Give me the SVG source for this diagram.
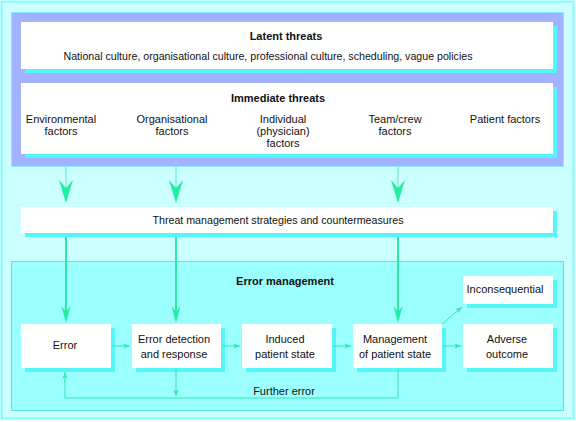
<svg xmlns="http://www.w3.org/2000/svg" width="576" height="422" viewBox="0 0 576 422">
<defs>
<style>
text{font-family:"Liberation Sans",Arial,sans-serif;font-size:11px;fill:#111;text-anchor:middle}
.b{font-weight:bold}
.box{fill:#ffffff}
.sh{fill:#55f6f6}
.thick{stroke:#2ee8a6;stroke-width:2;fill:none}
.thin{stroke:#5eeab8;stroke-width:1;fill:none}
.small{stroke:#33e8b0;stroke-width:1;fill:none}
.ah{fill:#22eea2}
.ahs{fill:#33e8b0}
</style>
<marker id="m" viewBox="0 0 10 8" refX="10" refY="4" markerWidth="7" markerHeight="5.5" markerUnits="userSpaceOnUse" orient="auto">
<path d="M0,0 L10,4 L0,8 L3,4 Z" class="ahs"/>
</marker>
</defs>
<rect x="1.5" y="1.5" width="572" height="417" fill="#ccffff" stroke="#77ffff" stroke-width="2"/>
<rect x="11.5" y="12.5" width="552" height="154" fill="#a2b2ff" stroke="#88e8ff" stroke-width="1"/>
<g id="latent">
<rect class="sh" x="25" y="26" width="532" height="47"/>
<rect class="box" x="21" y="22" width="532" height="47"/>
<text class="b" x="286" y="40">Latent threats</text>
<text x="268" y="60" textLength="409" lengthAdjust="spacingAndGlyphs">National culture, organisational culture, professional culture, scheduling, vague policies</text>
</g>
<g id="immediate">
<rect class="sh" x="25" y="87" width="532" height="71"/>
<rect class="box" x="21" y="83" width="532" height="71"/>
<text class="b" x="278" y="102">Immediate threats</text>
<text x="61" y="123">Environmental</text><text x="61" y="135">factors</text>
<text x="172" y="123">Organisational</text><text x="172" y="135">factors</text>
<text x="283" y="123">Individual</text><text x="283" y="135">(physician)</text><text x="283" y="147">factors</text>
<text x="395" y="123">Team/crew</text><text x="395" y="135">factors</text>
<text x="505" y="123">Patient factors</text>
</g>
<g id="threat">
<rect class="sh" x="25" y="211" width="532" height="26"/>
<rect class="box" x="21" y="207" width="532" height="26"/>
<text x="278" y="224" textLength="251" lengthAdjust="spacingAndGlyphs">Threat management strategies and countermeasures</text>
</g>
<g id="errmgmt">
<rect x="11.5" y="261.5" width="552" height="149" fill="#9cffff" stroke="#55e6e6" stroke-width="1"/>
<text class="b" x="285" y="285">Error management</text>
</g>
<g id="error">
<rect class="sh" x="25" y="328" width="90" height="44"/>
<rect class="box" x="21" y="324" width="90" height="44"/>
<text x="65" y="349">Error</text>
</g>
<g id="detection">
<rect class="sh" x="136" y="328" width="89" height="44"/>
<rect class="box" x="132" y="324" width="89" height="44"/>
<text x="174" y="343">Error detection</text><text x="174" y="358">and response</text>
</g>
<g id="induced">
<rect class="sh" x="246" y="328" width="90" height="44"/>
<rect class="box" x="242" y="324" width="90" height="44"/>
<text x="285" y="343">Induced</text><text x="285" y="358">patient state</text>
</g>
<g id="management">
<rect class="sh" x="357" y="328" width="89" height="44"/>
<rect class="box" x="353" y="324" width="89" height="44"/>
<text x="395" y="343">Management</text><text x="395" y="358">of patient state</text>
</g>
<g id="adverse">
<rect class="sh" x="467" y="328" width="90" height="44"/>
<rect class="box" x="463" y="324" width="90" height="44"/>
<text x="507" y="343">Adverse</text><text x="507" y="358">outcome</text>
</g>
<g id="inconsequential">
<rect class="sh" x="467" y="280" width="90" height="28"/>
<rect class="box" x="463" y="276" width="90" height="28"/>
<text x="505" y="293">Inconsequential</text>
</g>
<g id="connectors">
<path class="thin" d="M66,167V188M176,167V188M398,167V188"/>
<path class="ah" d="M66,203L59,180L66,188L73,180Z"/>
<path class="ah" d="M176,203L169,180L176,188L183,180Z"/>
<path class="ah" d="M398,203L391,180L398,188L405,180Z"/>
<path class="thick" d="M66,237V314M176,237V314M398,237V314"/>
<path class="ah" d="M66,323L61.5,306L66,312L70.5,306Z"/>
<path class="ah" d="M176,323L171.5,306L176,312L180.5,306Z"/>
<path class="ah" d="M398,323L393.5,306L398,312L402.5,306Z"/>
<path class="small" marker-end="url(#m)" d="M112,346H130"/>
<path class="small" marker-end="url(#m)" d="M222,346H240"/>
<path class="small" marker-end="url(#m)" d="M333,346H351"/>
<path class="small" marker-end="url(#m)" d="M443,346H461"/>
<path class="small" marker-end="url(#m)" d="M442,324L462,307"/>
<path class="small" marker-end="url(#m)" d="M176,369V396"/>
<path class="small" d="M398,369V398H65V380"/>
<path class="small" marker-end="url(#m)" d="M65,382V372"/>
<text x="284" y="395">Further error</text>
</g>
</svg>
